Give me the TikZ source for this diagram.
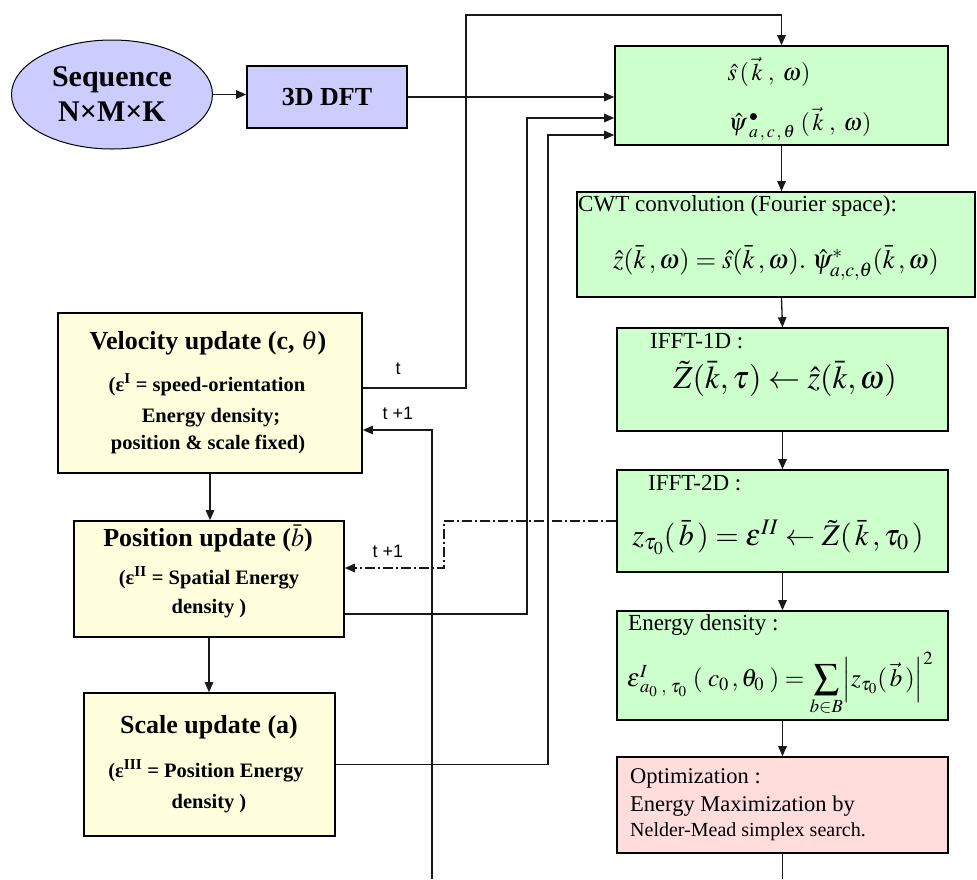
\documentclass[tikz,border=0pt]{standalone}
\usepackage{mathptmx}
\usepackage{fontspec}
\setmainfont{Liberation Serif}[BoldFont={Liberation Serif Bold},ItalicFont={Liberation Serif Italic}]
\newfontfamily\arialfont{Liberation Sans}
\usetikzlibrary{arrows.meta,shapes.geometric}
\definecolor{lav}{HTML}{CCCCFF}
\definecolor{grn}{HTML}{CCFFCC}
\definecolor{crm}{HTML}{FFFFDD}
\definecolor{pnk}{HTML}{FFDDDD}
\newcommand\FS[2]{\fontsize{#1}{#2}\selectfont}
\tikzset{
  box/.style={draw=black, line width=1.6pt, inner sep=0pt, rectangle},
  gbox/.style={box, fill=grn},
  ybox/.style={box, fill=crm},
  conn/.style={line width=1.3pt, draw=black!90},
  arr/.style={conn, -{Triangle[length=10pt,width=8.5pt]}},
  dashdot/.style={dash pattern=on 10pt off 3pt on 2pt off 3pt},
  txt/.style={inner sep=0pt, anchor=mid},
  ltxt/.style={inner sep=0pt, anchor=mid west},
  gt/.style={ltxt, font=\FS{23}{27}},
  yt1/.style={txt, font=\FS{26}{30}\bfseries},
  yt2/.style={txt, font=\FS{20.5}{24}\bfseries},
  lab/.style={txt, font=\arialfont\FS{18}{20}},
}
\begin{document}
\begin{tikzpicture}[x=1pt,y=-1pt]
\useasboundingbox (0,0) rectangle (977,879);

% ---- nodes ----
\node[ellipse, draw, line width=1pt, fill=lav, minimum width=201pt, minimum height=109pt,
      inner sep=0pt, align=center, font=\FS{30}{35}\bfseries] (seq) at (112,94.5) {Sequence\\N×M×K};
\node[box, fill=lav, minimum width=160pt, minimum height=62pt, font=\FS{26}{30}\bfseries] (dft) at (327,97) {3D DFT};

\node[gbox, minimum width=333pt, minimum height=99pt] (spec) at (781.5,95.5) {};
\node[gbox, minimum width=398pt, minimum height=105pt] (cwt) at (776,244.5) {};
\node[gbox, minimum width=331pt, minimum height=103pt] (ifa) at (782.5,379.5) {};
\node[gbox, minimum width=331pt, minimum height=102pt] (ifb) at (782.5,521) {};
\node[gbox, minimum width=331pt, minimum height=109pt] (ene) at (782.5,665.5) {};
\node[box, fill=pnk, minimum width=331pt, minimum height=96pt] (opt) at (782.5,805) {};

\node[ybox, minimum width=304pt, minimum height=160pt] (vel) at (210,393) {};
\node[ybox, minimum width=270pt, minimum height=116pt] (pos) at (209,579) {};
\node[ybox, minimum width=251pt, minimum height=143pt] (scl) at (209.5,764.5) {};

% ---- texts in green boxes ----
\node[txt, font=\FS{24}{28}] (specA) at (769,78) {$\hat{s}\,(\,\vec{k}\;,\;\omega)$};
\node[txt, font=\FS{24}{28}] (specB) at (800,128) {$\hat{\psi}^{\,\bullet}_{\;a\,,\,c\,,\,\theta}\;(\,\vec{k}\;,\;\omega)$};

\node[gt] (cwtA) at (578,209) {CWT convolution (Fourier space):};
\node[txt, font=\FS{26.5}{30}] (cwtB) at (776,266) {$\hat{z}(\bar{k}\,,\omega)=\hat{s}(\bar{k}\,,\omega).\;\hat{\psi}^{*}_{a,c,\theta}(\bar{k}\,,\omega)$};

\node[gt] (ifaA) at (650,346) {IFFT-1D :};
\node[txt, font=\FS{32}{36}] (ifaB) at (785,386) {$\tilde{Z}(\bar{k},\tau)\leftarrow\hat{z}(\bar{k},\omega)$};

\node[gt] (ifbA) at (648,488) {IFFT-2D :};
\node[txt, font=\FS{30}{34}] (ifbB) at (778,543) {$z_{\tau_0}(\,\bar{b}\,)=\varepsilon^{II}\leftarrow\tilde{Z}(\,\bar{k}\,,\tau_0\,)$};

\node[gt] (eneA) at (628,628) {Energy density :};
\node[txt, font=\FS{25}{29}] (eneB) at (780,684) {$\varepsilon^{I}_{\,a_{0}\;,\;\tau_{0}}\;(\;c_0\,,\theta_0\;)=\displaystyle\sum_{b\in B}\Bigl|z_{\tau_0}(\,\vec{b}\,)\Bigr|^{2}$};

\node[ltxt, font=\FS{22.5}{26}] (optA) at (630,781) {Optimization :};
\node[ltxt, font=\FS{22.5}{26}] (optB) at (630,809) {Energy Maximization by};
\node[ltxt, font=\FS{20}{24}] (optC) at (630,834) {Nelder-Mead simplex search.};

% ---- texts in yellow boxes ----
\node[yt1] (velA) at (208,347) {Velocity update (c, $\theta$)};
\node[yt2] (velB) at (207,389) {(ε\textsuperscript{I} = speed-orientation};
\node[yt2] (velC) at (211,420) {Energy density;};
\node[yt2] (velD) at (208,447) {position \& scale fixed)};

\node[yt1] (posA) at (208,544) {Position update ($\bar{b}$)};
\node[yt2] (posB) at (209,582) {(ε\textsuperscript{II} = Spatial Energy};
\node[yt2] (posC) at (209,611) {density )};

\node[yt1] (sclA) at (209,731) {Scale update (a)};
\node[yt2] (sclB) at (206,775) {(ε\textsuperscript{III} = Position Energy};
\node[yt2] (sclC) at (209,806) {density )};

% ---- labels ----
\node[lab] (lt) at (398,372) {t};
\node[lab] (lt1) at (398,417) {t +1};
\node[lab] (lt2) at (388,555) {t +1};

% ---- waypoints ----
\coordinate (tx) at (466,15);
\coordinate (px) at (527,118);
\coordinate (sx) at (548,135);
\coordinate (dx) at (444,568);
\coordinate (bot1) at (432,879);
\coordinate (bot2) at (782.5,879);

% ---- connectors ----
\draw[arr] (seq.east) -- (seq.east -| dft.west);
\draw[arr] (dft.east) -- (dft.east -| spec.west);
\draw[arr] ([yshift=5pt]vel.east) -| (tx) -| (spec.north);
\draw[arr] ([yshift=-35pt]pos.east) -| (px) -- (px -| spec.west);
\draw[arr] (scl.east) -| (sx) -- (sx -| spec.west);
\draw[arr] (bot1) |- ([yshift=-37pt]vel.east);
\draw[arr, dashdot] (ifb.west) -| (dx) -- (dx -| pos.east);

\draw[arr] (spec.south) -- (spec.south |- cwt.north);
\draw[arr] (spec.south |- cwt.south) -- (ifa.north);
\draw[arr] (ifa.south) -- (ifb.north);
\draw[arr] (ifb.south) -- (ene.north);
\draw[arr] (ene.south) -- (opt.north);
\draw[conn] (opt.south) -- (bot2);

\draw[arr] (vel.south) -- (vel.south |- pos.north);
\draw[arr] (pos.south) -- (pos.south |- scl.north);
\end{tikzpicture}
\end{document}
